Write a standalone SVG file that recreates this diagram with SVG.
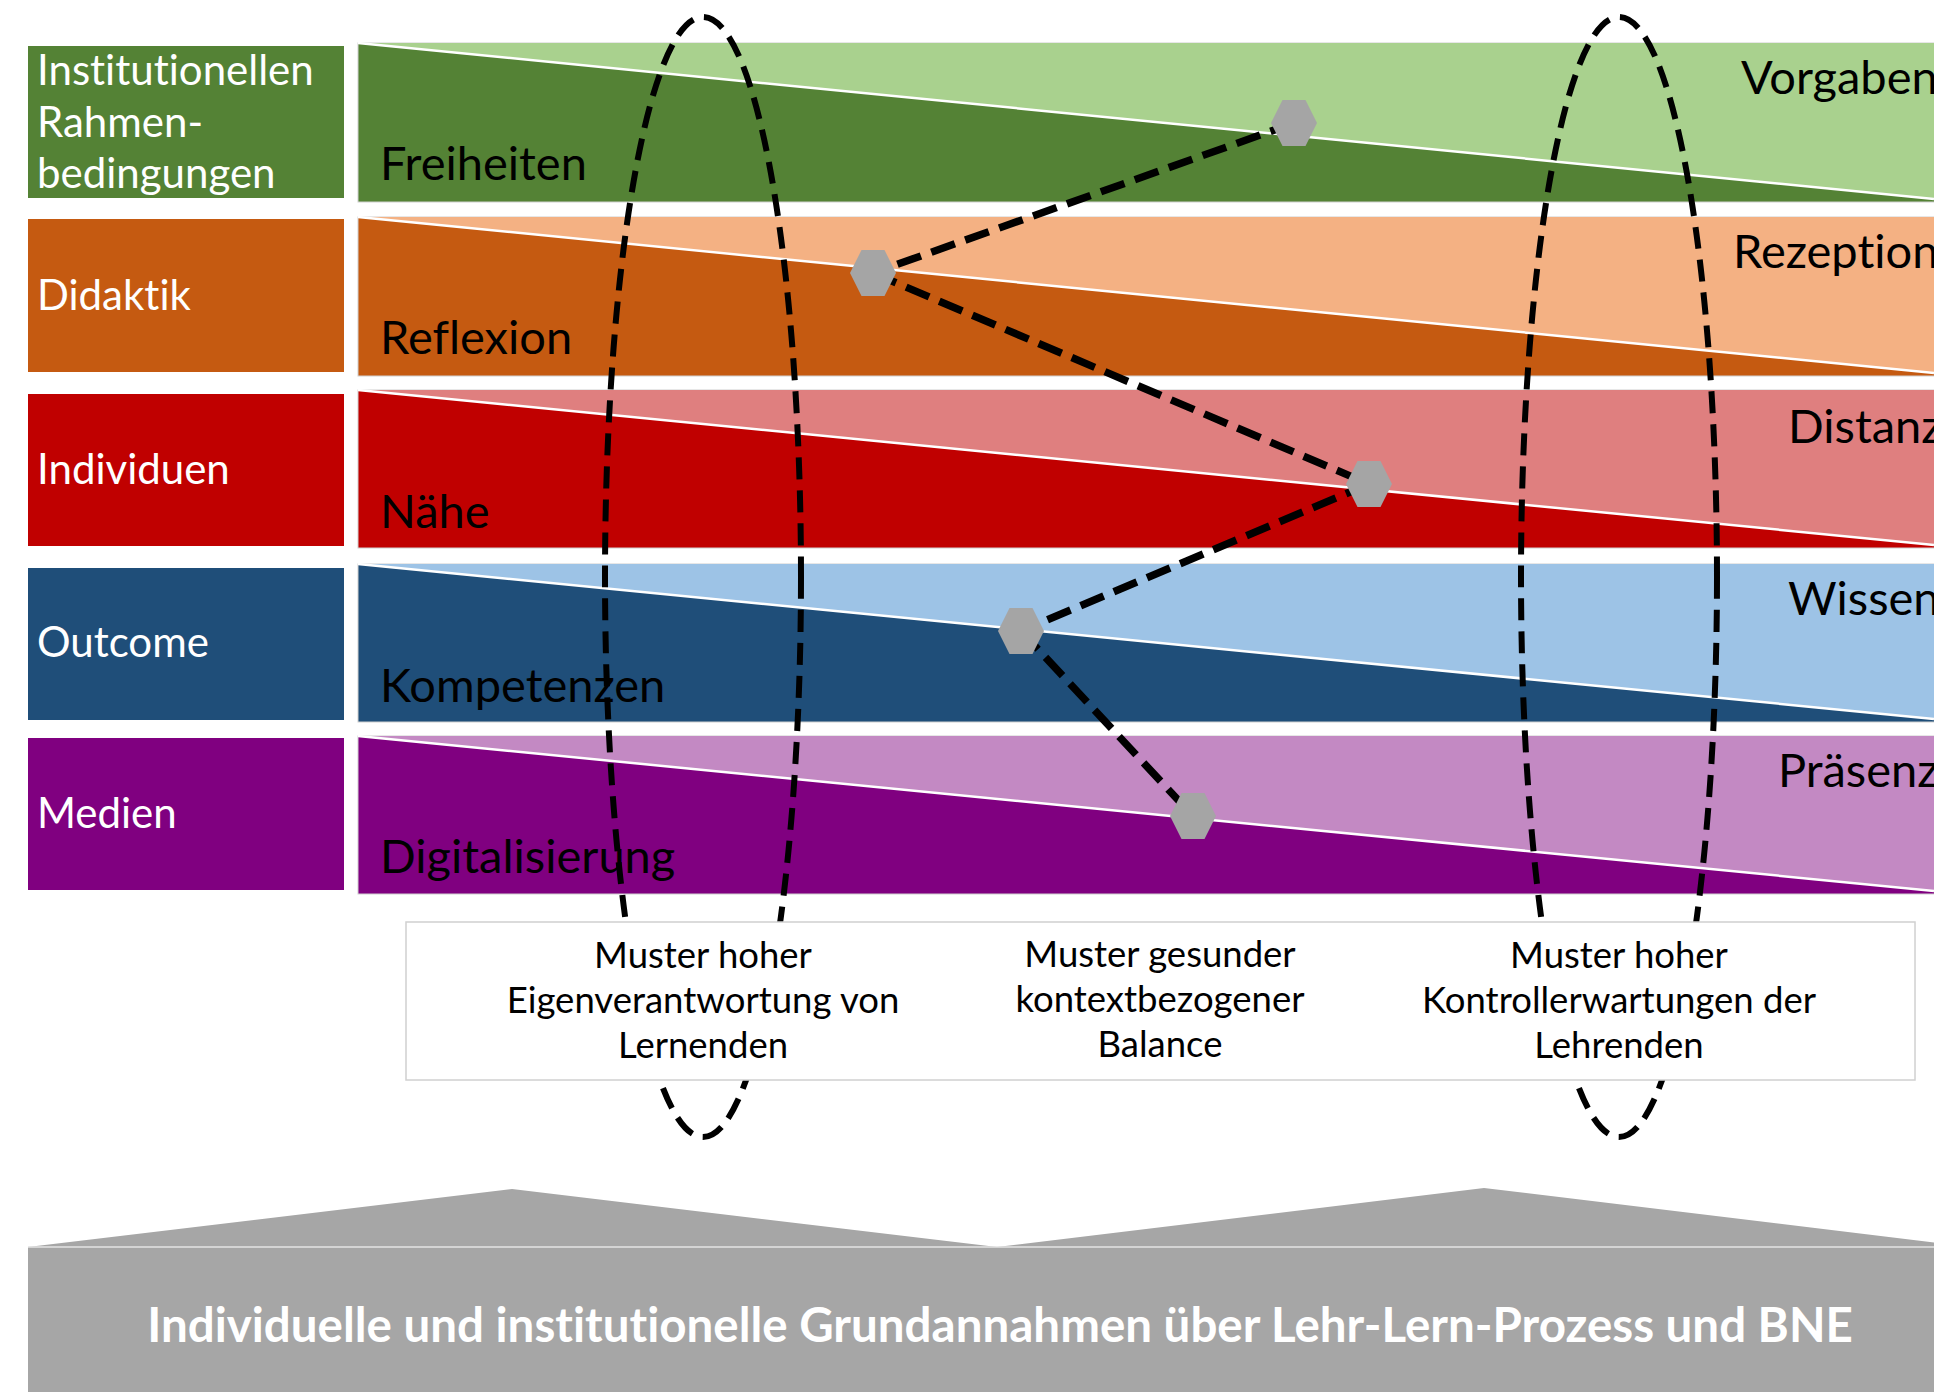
<svg xmlns="http://www.w3.org/2000/svg" width="1934" height="1392" viewBox="0 0 1934 1392">
<style>
text{font-family:Lato,"Open Sans","Liberation Sans",sans-serif;font-variant-ligatures:none;font-feature-settings:"liga" 0,"dlig" 0}
.lbl{font-size:42px;fill:#fff}
.bt{font-size:47px;fill:#000}
.pt{font-size:36.5px;fill:#000;text-anchor:middle}
.band{stroke:#D0D0D0;stroke-width:1}
.diag{stroke:#fff;stroke-width:2.5}
.ell{fill:none;stroke:#000;stroke-width:6;stroke-dasharray:22 11}
.con{fill:none;stroke:#000;stroke-width:7.5;stroke-dasharray:25 11}
.hex{fill:#A5A5A5}
.box{fill:#fff}
</style>
<defs>
<polygon id="hx" points="-23,0 -11.5,-23 11.5,-23 23,0 11.5,23 -11.5,23"/>
</defs>
<rect width="1934" height="1392" fill="#fff"/>

<g id="band-freiheiten-vorgaben">
<rect class="band" x="358" y="43" width="1580" height="159" fill="#548235"/>
<polygon points="358,43 1934,43 1934,199" fill="#A9D18E"/>
<line class="diag" x1="358" y1="43" x2="1934" y2="199"/>
<text class="bt" x="380" y="180">Freiheiten</text>
<text class="bt" x="1741" y="94">Vorgaben</text>
</g>
<g id="band-reflexion-rezeption">
<rect class="band" x="358" y="217" width="1580" height="159" fill="#C55A11"/>
<polygon points="358,217 1934,217 1934,373" fill="#F4B183"/>
<line class="diag" x1="358" y1="217" x2="1934" y2="373"/>
<text class="bt" x="380" y="354">Reflexion</text>
<text class="bt" x="1733" y="268">Rezeption</text>
</g>
<g id="band-naehe-distanz">
<rect class="band" x="358" y="390" width="1580" height="158" fill="#C00000"/>
<polygon points="358,390 1934,390 1934,545" fill="#DF7F7F"/>
<line class="diag" x1="358" y1="390" x2="1934" y2="545"/>
<text class="bt" x="380" y="528">Nähe</text>
<text class="bt" x="1788" y="443">Distanz</text>
</g>
<g id="band-kompetenzen-wissen">
<rect class="band" x="358" y="564" width="1580" height="158" fill="#1F4E79"/>
<polygon points="358,564 1934,564 1934,719" fill="#9DC3E6"/>
<line class="diag" x1="358" y1="564" x2="1934" y2="719"/>
<text class="bt" x="380" y="702">Kompetenzen</text>
<text class="bt" x="1788" y="615">Wissen</text>
</g>
<g id="band-digitalisierung-praesenz">
<rect class="band" x="358" y="736" width="1580" height="158" fill="#800080"/>
<polygon points="358,736 1934,736 1934,891" fill="#C389C3"/>
<line class="diag" x1="358" y1="736" x2="1934" y2="891"/>
<text class="bt" x="380" y="873">Digitalisierung</text>
<text class="bt" x="1778" y="787">Präsenz</text>
</g>

<g id="ellipse-left"><ellipse class="ell" cx="703" cy="577" rx="98" ry="560"/></g>
<g id="ellipse-right"><ellipse class="ell" cx="1619" cy="577" rx="98" ry="560"/></g>

<g id="connectors">
<line class="con" x1="1294" y1="123" x2="873" y2="273"/>
<line class="con" x1="873" y1="273" x2="1369" y2="484"/>
<line class="con" x1="1369" y1="484" x2="1021" y2="631"/>
<line class="con" x1="1021" y1="631" x2="1193" y2="816"/>
</g>

<g id="hex-1"><use href="#hx" class="hex" x="1294" y="123"/></g>
<g id="hex-2"><use href="#hx" class="hex" x="873" y="273"/></g>
<g id="hex-3"><use href="#hx" class="hex" x="1369" y="484"/></g>
<g id="hex-4"><use href="#hx" class="hex" x="1021" y="631"/></g>
<g id="hex-5"><use href="#hx" class="hex" x="1193" y="816"/></g>

<g id="label-rahmen">
<rect x="28" y="46" width="316" height="152" fill="#548235"/>
<text class="lbl" x="37" y="85">Institutionellen</text>
<text class="lbl" x="37" y="137">Rahmen-</text>
<text class="lbl" x="37" y="188">bedingungen</text>
</g>
<g id="label-didaktik">
<rect x="28" y="219" width="316" height="153" fill="#C55A11"/>
<text class="lbl" x="37" y="310">Didaktik</text>
</g>
<g id="label-individuen">
<rect x="28" y="394" width="316" height="152" fill="#C00000"/>
<text class="lbl" x="37" y="484">Individuen</text>
</g>
<g id="label-outcome">
<rect x="28" y="568" width="316" height="152" fill="#1F4E79"/>
<text class="lbl" x="37" y="657">Outcome</text>
</g>
<g id="label-medien">
<rect x="28" y="738" width="316" height="152" fill="#800080"/>
<text class="lbl" x="37" y="828">Medien</text>
</g>

<g id="pattern-boxes-outline">
<rect x="406" y="922" width="1509" height="158" fill="#fff" stroke="#D0D0D0" stroke-width="1.5"/>
</g>
<g id="pattern-eigenverantwortung">
<rect class="box" x="407" y="923" width="593" height="156"/>
<text class="pt" x="703" y="968">Muster hoher</text>
<text class="pt" x="703" y="1013">Eigenverantwortung von</text>
<text class="pt" x="703" y="1058">Lernenden</text>
</g>
<g id="pattern-balance">
<rect class="box" x="947" y="923" width="425" height="156"/>
<text class="pt" x="1160" y="967">Muster gesunder</text>
<text class="pt" x="1160" y="1012">kontextbezogener</text>
<text class="pt" x="1160" y="1057">Balance</text>
</g>
<g id="pattern-kontrolle">
<rect class="box" x="1323" y="923" width="591" height="156"/>
<text class="pt" x="1619" y="968">Muster hoher</text>
<text class="pt" x="1619" y="1013">Kontrollerwartungen der</text>
<text class="pt" x="1619" y="1058">Lehrenden</text>
</g>

<g id="foundation">
<polygon points="28,1247 512,1189 997,1247 1484,1188 1971,1247" fill="#A6A6A6"/>
<rect x="28" y="1247" width="1910" height="150" fill="#A6A6A6"/>
<line x1="28" y1="1247" x2="1934" y2="1247" stroke="#E3E3E3" stroke-width="1.5"/>
<text x="1000" y="1342" font-size="47.5" font-weight="bold" fill="#fff" text-anchor="middle">Individuelle und institutionelle Grundannahmen über Lehr-Lern-Prozess und BNE</text>
</g>
</svg>
